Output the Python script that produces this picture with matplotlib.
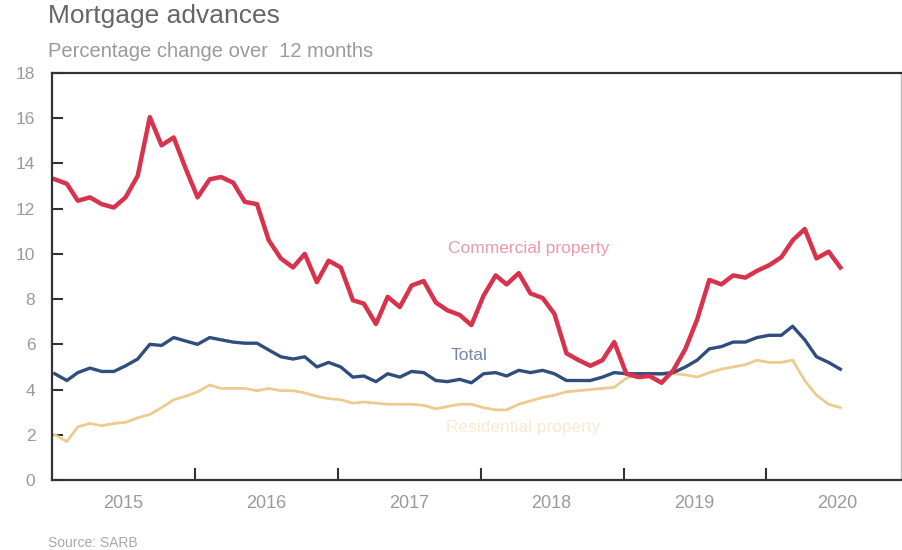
import matplotlib
matplotlib.use("Agg")
import matplotlib.pyplot as plt
import numpy as np
import pandas as pd

plt.rcParams["font.family"] = ["Liberation Sans", "DejaVu Sans"]

# monthly data, Jan 2015 - Jul 2020 (percentage change over 12 months)
months = pd.date_range("2015-01-01", periods=67, freq="MS") + pd.Timedelta(days=7)

commercial = [13.3, 13.1, 12.35, 12.5, 12.2, 12.05, 12.5, 13.45, 16.05, 14.8, 15.15, 13.8,
              12.5, 13.3, 13.4, 13.15, 12.3, 12.2, 10.6, 9.8, 9.4, 10.0, 8.75, 9.7,
              9.4, 7.95, 7.8, 6.9, 8.1, 7.65, 8.6, 8.8, 7.85, 7.5, 7.3, 6.85,
              8.15, 9.05, 8.65, 9.15, 8.25, 8.05, 7.35, 5.6, 5.3, 5.05, 5.3, 6.1,
              4.7, 4.55, 4.6, 4.3, 4.85, 5.8, 7.1, 8.85, 8.65, 9.05, 8.95, 9.25,
              9.5, 9.85, 10.6, 11.1, 9.8, 10.1, 9.4]

total = [4.7, 4.4, 4.75, 4.95, 4.8, 4.8, 5.05, 5.35, 6.0, 5.95, 6.3, 6.15,
         6.0, 6.3, 6.2, 6.1, 6.05, 6.05, 5.75, 5.45, 5.35, 5.45, 5.0, 5.2,
         5.0, 4.55, 4.6, 4.35, 4.7, 4.55, 4.8, 4.75, 4.4, 4.35, 4.45, 4.3,
         4.7, 4.75, 4.6, 4.85, 4.75, 4.85, 4.7, 4.4, 4.4, 4.4, 4.55, 4.75,
         4.7, 4.7, 4.7, 4.7, 4.75, 5.0, 5.3, 5.8, 5.9, 6.1, 6.1, 6.3,
         6.4, 6.4, 6.8, 6.2, 5.45, 5.2, 4.9]

residential = [2.0, 1.7, 2.35, 2.5, 2.4, 2.5, 2.55, 2.75, 2.9, 3.2, 3.55, 3.7,
               3.9, 4.2, 4.05, 4.05, 4.05, 3.95, 4.05, 3.95, 3.95, 3.85, 3.7, 3.6,
               3.55, 3.4, 3.45, 3.4, 3.35, 3.35, 3.35, 3.3, 3.15, 3.25, 3.35, 3.35,
               3.2, 3.1, 3.1, 3.35, 3.5, 3.65, 3.75, 3.9, 3.95, 4.0, 4.05, 4.1,
               4.5, 4.65, 4.7, 4.65, 4.7, 4.65, 4.55, 4.75, 4.9, 5.0, 5.1, 5.3,
               5.2, 5.2, 5.3, 4.4, 3.75, 3.35, 3.2]

years = [2015, 2016, 2017, 2018, 2019, 2020]
y_ticks = [0, 2, 4, 6, 8, 10, 12, 14, 16, 18]

RED = "#d8324c"
BLUE = "#2f4e7e"
YELLOW = "#ebcb8e"
GREY = "#9a9a9a"

fig = plt.figure(figsize=(9.03, 5.5), dpi=100)
ax = fig.add_axes([52 / 903, 1 - 480 / 550, 849 / 903, 407 / 550])

ax.plot(months, residential, color=YELLOW, lw=2.0, solid_joinstyle="round")
ax.plot(months, total, color=BLUE, lw=2.4, solid_joinstyle="round")
ax.plot(months, commercial, color=RED, lw=3.2, solid_joinstyle="round")

ax.set_ylim(0, 18)
ax.set_xlim(pd.Timestamp("2015-01-01"), pd.Timestamp("2020-12-10"))

ax.set_yticks(y_ticks)
ax.tick_params(axis="y", direction="in", length=8, width=1.5, color="#333333",
               labelcolor=GREY, labelsize=12.5, pad=12)

# year boundaries as ticks, year names centred in between
ax.set_xticks([pd.Timestamp(f"{y}-01-01") for y in years[1:]])
ax.set_xticklabels([])
ax.set_xticks([pd.Timestamp(f"{y}-07-01") for y in years], minor=True)
ax.set_xticklabels([str(y) for y in years], minor=True)
ax.tick_params(axis="x", which="major", direction="in", length=9, width=1.5, color="#333333")
ax.tick_params(axis="x", which="minor", length=0, labelcolor=GREY, labelsize=13, pad=11)

for side in ["left", "top", "bottom"]:
    ax.spines[side].set_color("#333333")
    ax.spines[side].set_linewidth(1.6)
ax.spines["right"].set_color("#bbbbbb")
ax.spines["right"].set_linewidth(1.0)

ax.text(pd.Timestamp("2017-10-10"), 10.25, "Commercial property", color="#eb9aa7",
        fontsize=12.5, va="center", ha="left")
ax.text(pd.Timestamp("2017-10-15"), 5.5, "Total", color="#7488aa",
        fontsize=12.5, va="center", ha="left")
ax.text(pd.Timestamp("2017-10-05"), 2.3, "Residential property", color="#f6ead0",
        fontsize=12.5, va="center", ha="left")

fig.text(48 / 903, 1 - 16 / 550, "Mortgage advances", color="#666666",
         fontsize=19, va="center", ha="left")
fig.text(48 / 903, 1 - 52 / 550, "Percentage change over  12 months", color=GREY,
         fontsize=14.5, va="center", ha="left")
fig.text(48 / 903, 1 - 543 / 550, "Source: SARB", color="#a8a8a8",
         fontsize=10, va="center", ha="left")

fig.savefig("out.png", dpi=100, facecolor="white")
